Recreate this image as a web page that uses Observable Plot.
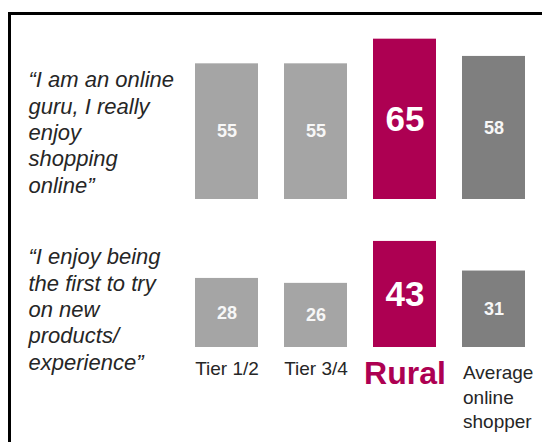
<!DOCTYPE html>
<html><head><meta charset="utf-8">
<script src="https://cdn.jsdelivr.net/npm/d3@7"></script>
<script src="https://cdn.jsdelivr.net/npm/@observablehq/plot@0.6"></script>
<style>
html,body{margin:0;padding:0;background:#fff;overflow:hidden;}
#wrap{position:relative;width:542px;height:442px;overflow:hidden;}
#wrap svg{position:absolute;left:0;top:0;}
#border{position:absolute;left:7.5px;top:12px;width:620px;height:620px;border:3px solid #000;box-sizing:border-box;pointer-events:none;z-index:2;}
</style></head><body><div id="wrap"><div id="border"></div></div>
<script>
const categories = ["Tier 1/2", "Tier 3/4", "Rural", "Average online shopper"];
const categoryLabels = ["Tier 1/2", "Tier 3/4", "Rural", "Average\nonline\nshopper"];
const statementKeys = ["guru", "first"];
const statementTexts = [
  "\u201cI am an online\nguru, I really\nenjoy\nshopping\nonline\u201d",
  "\u201cI enjoy being\nthe first to try\non new\nproducts/\nexperience\u201d"
];
const guruValues = [55, 55, 65, 58];
const firstValues = [28, 26, 43, 31];
const barColors = ["#a5a5a5", "#a5a5a5", "#ad0052", "#7f7f7f"];

const rows = [];
categories.forEach((c, i) => {
  rows.push({q: "guru", cat: c, value: guruValues[i]});
  rows.push({q: "first", cat: c, value: firstValues[i]});
});
const labelRows = categories.map((c, i) => ({q: "first", cat: c, label: categoryLabels[i]}));
const quoteRows = statementKeys.map((k, i) => ({q: k, text: statementTexts[i]}));

const FONT = "'Liberation Sans', Arial, sans-serif";
const chart = Plot.plot({
  width: 542, height: 442,
  marginLeft: 194, marginRight: 16, marginTop: 51, marginBottom: 95,
  x: {domain: categories, paddingInner: 0.296, paddingOuter: 0, axis: null},
  y: {domain: [0, 60], axis: null},
  fy: {domain: statementKeys, padding: 0, axis: null},
  color: {domain: categories, range: barColors},
  style: {fontFamily: FONT, background: "transparent", overflow: "visible"},
  marks: [
    Plot.barY(rows, {x: "cat", y: "value", fy: "q", fill: "cat"}),
    Plot.text(rows.filter(d => d.cat !== "Rural"), {x: "cat", y: d => d.value / 2, fy: "q", text: d => String(d.value), fill: "#f7f7f7", fontWeight: "bold", fontSize: 18}),
    Plot.text(rows.filter(d => d.cat === "Rural"), {x: "cat", y: d => d.value / 2, fy: "q", text: d => String(d.value), fill: "#ffffff", fontWeight: "bold", fontSize: 35}),
    Plot.text(quoteRows.filter(d => d.q === "guru"), {fy: "q", text: "text", frameAnchor: "top-left", textAnchor: "start", lineAnchor: "top", dx: -166, dy: 17, fontSize: 22, fontStyle: "italic", lineHeight: 1.2, fill: "#262626"}),
    Plot.text(quoteRows.filter(d => d.q === "first"), {fy: "q", text: "text", frameAnchor: "top-left", textAnchor: "start", lineAnchor: "top", dx: -166, dy: 46, fontSize: 22, fontStyle: "italic", lineHeight: 1.2, fill: "#262626"}),
    Plot.text(labelRows.filter(d => d.cat.startsWith("Tier")), {x: "cat", fy: "q", text: "label", frameAnchor: "bottom", lineAnchor: "top", dy: 14, fontSize: 19, fill: "#262626"}),
    Plot.text(labelRows.filter(d => d.cat === "Rural"), {x: "cat", fy: "q", text: "label", frameAnchor: "bottom", lineAnchor: "top", dy: 14, fontSize: 32, fontWeight: "bold", fill: "#ad0052"}),
    Plot.text(labelRows.filter(d => d.cat.startsWith("Average")), {x: "cat", fy: "q", text: "label", frameAnchor: "bottom", lineAnchor: "top", textAnchor: "start", dx: -31, dy: 14, fontSize: 19, lineHeight: 1.3, fill: "#262626"})
  ]
});
document.getElementById("wrap").prepend(chart);
</script></body></html>
